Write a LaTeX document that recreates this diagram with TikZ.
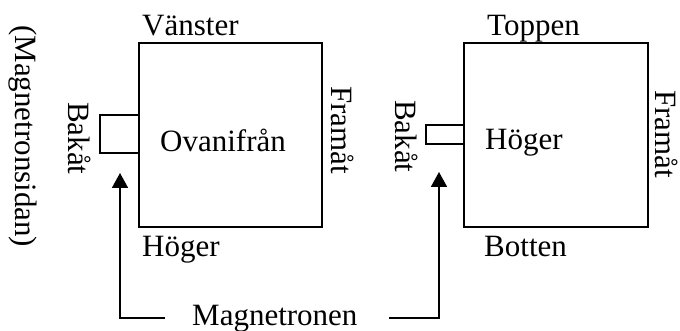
\documentclass[tikz,border=0pt]{standalone}
\usepackage{fontspec}
\setmainfont{Liberation Serif}
\usetikzlibrary{arrows.meta}
\begin{document}
\begin{tikzpicture}[x=1pt,y=-1pt,
  lbl/.style={inner sep=0pt, anchor=base west, font=\fontsize{31}{36}\selectfont},
  vlbl/.style={lbl, rotate=-90},
  box/.style={draw, line width=1.8pt, inner sep=0pt, minimum width=#1},
  conn/.style={line width=1.8pt, -{Triangle[length=15pt,width=16pt]}}]
\useasboundingbox (0,0) rectangle (680,331);
% left view
\node[box=183pt, minimum height=184pt] (ovan) at (230.5,135) {};
\node[box=39pt, minimum height=38pt] (ovanport) at (119.5,134) {};
\node[lbl] (vanster) at (142,36) {Vänster};
\node[lbl] (hogerA) at (142,257) {Höger};
\node[lbl] (ovantxt) at (160,152) {Ovanifrån};
\node[vlbl] (framA) at (331,86) {Framåt};
\node[vlbl] (bakA) at (68,102) {Bakåt};
\node[vlbl] (msida) at (16,25) {(Magnetronsidan)};
% right view
\node[box=184pt, minimum height=184pt] (hoger) at (556,135) {};
\node[box=38pt, minimum height=19pt] (hogerport) at (445,134.5) {};
\node[lbl] (toppen) at (487,36) {Toppen};
\node[lbl] (botten) at (484,256) {Botten};
\node[lbl] (hogertxt) at (485,150) {Höger};
\node[vlbl] (framB) at (655,90) {Framåt};
\node[vlbl] (bakB) at (395,100) {Bakåt};
% magnetron label and arrows
\node[lbl] (magnet) at (192,325) {Magnetronen};
\coordinate (mL) at (165,318);
\coordinate (tipL) at (120,173);
\coordinate (mR) at (389,318);
\coordinate (tipR) at (439,172);
\draw[conn] (mL) -| (tipL);
\draw[conn] (mR) -| (tipR);
\end{tikzpicture}
\end{document}
